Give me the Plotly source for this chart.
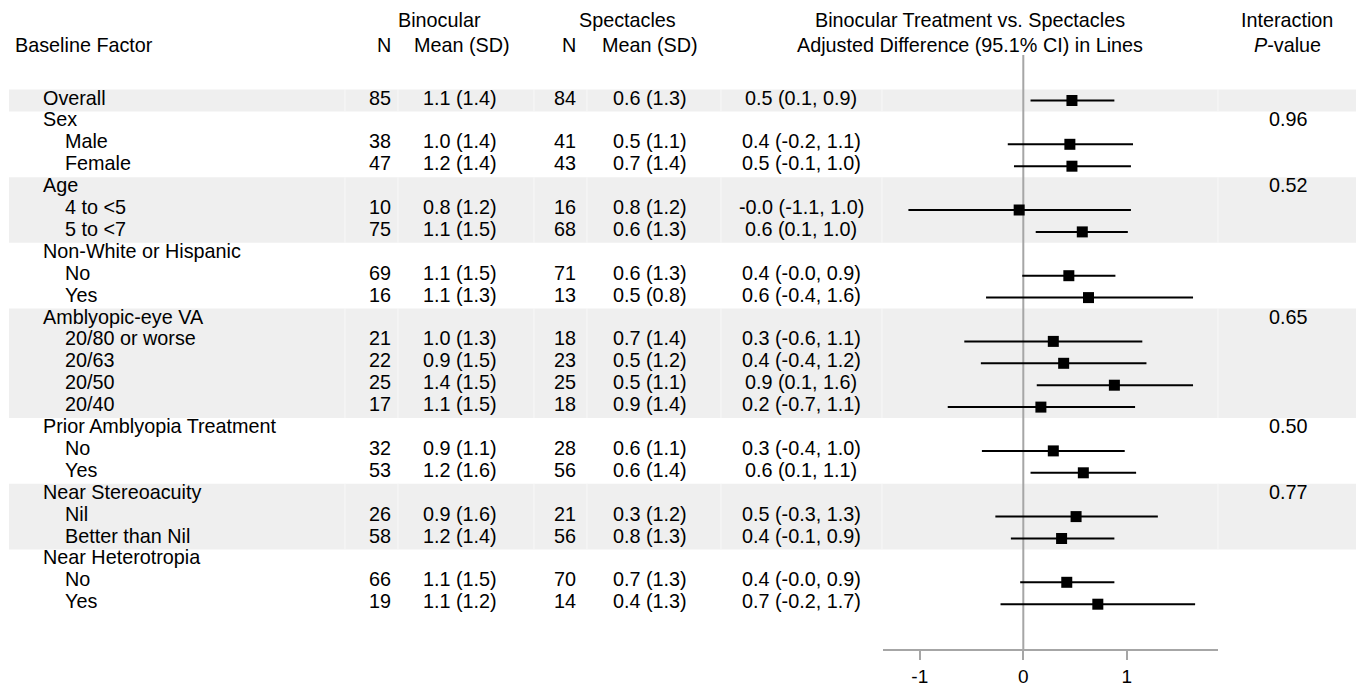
import plotly.graph_objects as go

# ---------------- data ----------------
labels = ["Overall", "Sex", "Male", "Female", "Age", "4 to <5", "5 to <7",
          "Non-White or Hispanic", "No", "Yes", "Amblyopic-eye VA", "20/80 or worse",
          "20/63", "20/50", "20/40", "Prior Amblyopia Treatment", "No", "Yes",
          "Near Stereoacuity", "Nil", "Better than Nil", "Near Heterotropia", "No", "Yes"]
levels = [0, 0, 1, 1, 0, 1, 1, 0, 1, 1, 0, 1, 1, 1, 1, 0, 1, 1, 0, 1, 1, 0, 1, 1]
n_bin = ["85", "", "38", "47", "", "10", "75", "", "69", "16", "", "21", "22", "25", "17",
         "", "32", "53", "", "26", "58", "", "66", "19"]
mean_bin = ["1.1 (1.4)", "", "1.0 (1.4)", "1.2 (1.4)", "", "0.8 (1.2)", "1.1 (1.5)", "",
            "1.1 (1.5)", "1.1 (1.3)", "", "1.0 (1.3)", "0.9 (1.5)", "1.4 (1.5)", "1.1 (1.5)",
            "", "0.9 (1.1)", "1.2 (1.6)", "", "0.9 (1.6)", "1.2 (1.4)", "", "1.1 (1.5)", "1.1 (1.2)"]
n_spec = ["84", "", "41", "43", "", "16", "68", "", "71", "13", "", "18", "23", "25", "18",
          "", "28", "56", "", "21", "56", "", "70", "14"]
mean_spec = ["0.6 (1.3)", "", "0.5 (1.1)", "0.7 (1.4)", "", "0.8 (1.2)", "0.6 (1.3)", "",
             "0.6 (1.3)", "0.5 (0.8)", "", "0.7 (1.4)", "0.5 (1.2)", "0.5 (1.1)", "0.9 (1.4)",
             "", "0.6 (1.1)", "0.6 (1.4)", "", "0.3 (1.2)", "0.8 (1.3)", "", "0.7 (1.3)", "0.4 (1.3)"]
diff_text = ["0.5 (0.1, 0.9)", "", "0.4 (-0.2, 1.1)", "0.5 (-0.1, 1.0)", "", "-0.0 (-1.1, 1.0)",
             "0.6 (0.1, 1.0)", "", "0.4 (-0.0, 0.9)", "0.6 (-0.4, 1.6)", "", "0.3 (-0.6, 1.1)",
             "0.4 (-0.4, 1.2)", "0.9 (0.1, 1.6)", "0.2 (-0.7, 1.1)", "", "0.3 (-0.4, 1.0)",
             "0.6 (0.1, 1.1)", "", "0.5 (-0.3, 1.3)", "0.4 (-0.1, 0.9)", "", "0.4 (-0.0, 0.9)",
             "0.7 (-0.2, 1.7)"]
est = [0.47, None, 0.45, 0.47, None, -0.04, 0.57, None, 0.44, 0.63, None, 0.29, 0.39, 0.88,
       0.17, None, 0.29, 0.58, None, 0.51, 0.37, None, 0.42, 0.72]
ci_lo = [0.07, None, -0.15, -0.09, None, -1.11, 0.12, None, -0.01, -0.36, None, -0.57, -0.41,
         0.13, -0.73, None, -0.40, 0.07, None, -0.27, -0.12, None, -0.03, -0.22]
ci_hi = [0.88, None, 1.06, 1.04, None, 1.04, 1.01, None, 0.89, 1.64, None, 1.15, 1.19, 1.64,
         1.08, None, 0.98, 1.09, None, 1.30, 0.88, None, 0.88, 1.66]
p_values = ["", "0.96", "", "", "0.52", "", "", "", "", "", "0.65", "", "", "", "", "0.50",
            "", "", "0.77", "", "", "", "", ""]
shaded_groups = [(0, 0), (4, 6), (10, 14), (18, 20)]
tick_vals = [-1, 0, 1]
tick_text = ["-1", "0", "1"]

# ---------------- layout helpers ----------------
W, H = 1356, 687
Y0, PITCH = 100.5, 21.9   # pixel centre of row 0, row pitch
FONT = "Arial, Liberation Sans, Helvetica, sans-serif"
FS = 19.8
BAND = "#efefef"


def px(x):
    return x / W


def py(y):
    return 1 - y / H


rows = list(range(len(labels)))
fig = go.Figure()

# forest plot: points + CI
pts = [(r, e, lo, hi) for r, e, lo, hi in zip(rows, est, ci_lo, ci_hi) if e is not None]
fig.add_trace(go.Scatter(
    x=[p[1] for p in pts], y=[p[0] for p in pts], mode="markers",
    marker=dict(symbol="square", size=11, color="black"),
    error_x=dict(type="data", symmetric=False,
                 array=[p[3] - p[1] for p in pts],
                 arrayminus=[p[1] - p[2] for p in pts],
                 width=0, thickness=2, color="black"),
    showlegend=False, hoverinfo="skip"))

shapes = []
# shaded bands
for a, b in shaded_groups:
    top = Y0 + PITCH * a - PITCH / 2
    bot = Y0 + PITCH * b + PITCH / 2
    shapes.append(dict(type="rect", xref="paper", yref="paper", x0=px(9), x1=1,
                       y0=py(bot), y1=py(top), fillcolor=BAND, line=dict(width=0),
                       layer="below"))
    for cx in [345, 398, 534, 587, 721, 882, 1218]:
        shapes.append(dict(type="line", xref="paper", yref="paper", x0=px(cx), x1=px(cx),
                           y0=py(bot), y1=py(top), line=dict(color="#f8f8f8", width=1),
                           layer="below"))
# zero reference line
shapes.append(dict(type="line", xref="x", yref="paper", x0=0, x1=0, y0=py(650), y1=py(55),
                   line=dict(color="#a6a6a6", width=2), layer="below"))

ann = []


def txt(x, y, s, anchor="left", yref="y", yshift=3):
    ann.append(dict(x=px(x), y=y, xref="paper", yref=yref, text=s, showarrow=False,
                    xanchor=anchor, yanchor="middle", yshift=yshift,
                    font=dict(family=FONT, size=FS, color="black")))


# headers
txt(13, py(44.5), "Baseline Factor", yref="paper", yshift=0)
txt(439, py(19.7), "Binocular", "center", yref="paper", yshift=0)
txt(393, py(44.5), "N", "right", yref="paper", yshift=0)
txt(462, py(44.5), "Mean (SD)", "center", yref="paper", yshift=0)
txt(627, py(19.7), "Spectacles", "center", yref="paper", yshift=0)
txt(578, py(44.5), "N", "right", yref="paper", yshift=0)
txt(650, py(44.5), "Mean (SD)", "center", yref="paper", yshift=0)
txt(970, py(19.7), "Binocular Treatment vs. Spectacles", "center", yref="paper", yshift=0)
txt(970, py(44.5), "Adjusted Difference (95.1% CI) in Lines", "center", yref="paper", yshift=0)
txt(1287, py(19.7), "Interaction", "center", yref="paper", yshift=0)
txt(1287, py(44.5), "<i>P</i>-value", "center", yref="paper", yshift=0)

# body
for r in rows:
    txt(40.5 if levels[r] == 0 else 62.5, r, labels[r])
    if n_bin[r]:
        txt(393, r, n_bin[r], "right")
        txt(460, r, mean_bin[r], "center")
        txt(578, r, n_spec[r], "right")
        txt(650, r, mean_spec[r], "center")
        txt(801, r, diff_text[r], "center")
    if p_values[r]:
        txt(1288, r, p_values[r], "center")

# axes ranges so that data coordinates map to pixel positions
X_ZERO, X_UNIT = 1023.3, 103.5
x_lo = (883 - X_ZERO) / X_UNIT
x_hi = (1218 - X_ZERO) / X_UNIT
y_top = (0 - Y0) / PITCH
y_bot = (H - Y0) / PITCH

fig.update_layout(
    width=W, height=H, margin=dict(l=0, r=0, t=0, b=0, autoexpand=False),
    paper_bgcolor="white", plot_bgcolor="rgba(0,0,0,0)",
    shapes=shapes, annotations=ann, showlegend=False,
    xaxis=dict(domain=[px(883), px(1218)], range=[x_lo, x_hi], anchor="free",
               position=py(650), showline=True, linecolor="#a6a6a6", linewidth=2,
               ticks="outside", ticklen=9, tickwidth=2, tickcolor="#a6a6a6",
               tickvals=tick_vals, ticktext=tick_text, ticklabelstandoff=0,
               tickfont=dict(family=FONT, size=19, color="black"),
               showgrid=False, zeroline=False, fixedrange=True, automargin=False),
    yaxis=dict(domain=[0, 1], range=[y_bot, y_top], visible=False, showgrid=False,
               zeroline=False, fixedrange=True, automargin=False),
)

fig.write_html("out.html", config={"displayModeBar": False, "staticPlot": True},
               post_script="document.body.style.margin='0';"
                           "document.body.style.overflow='hidden';")
